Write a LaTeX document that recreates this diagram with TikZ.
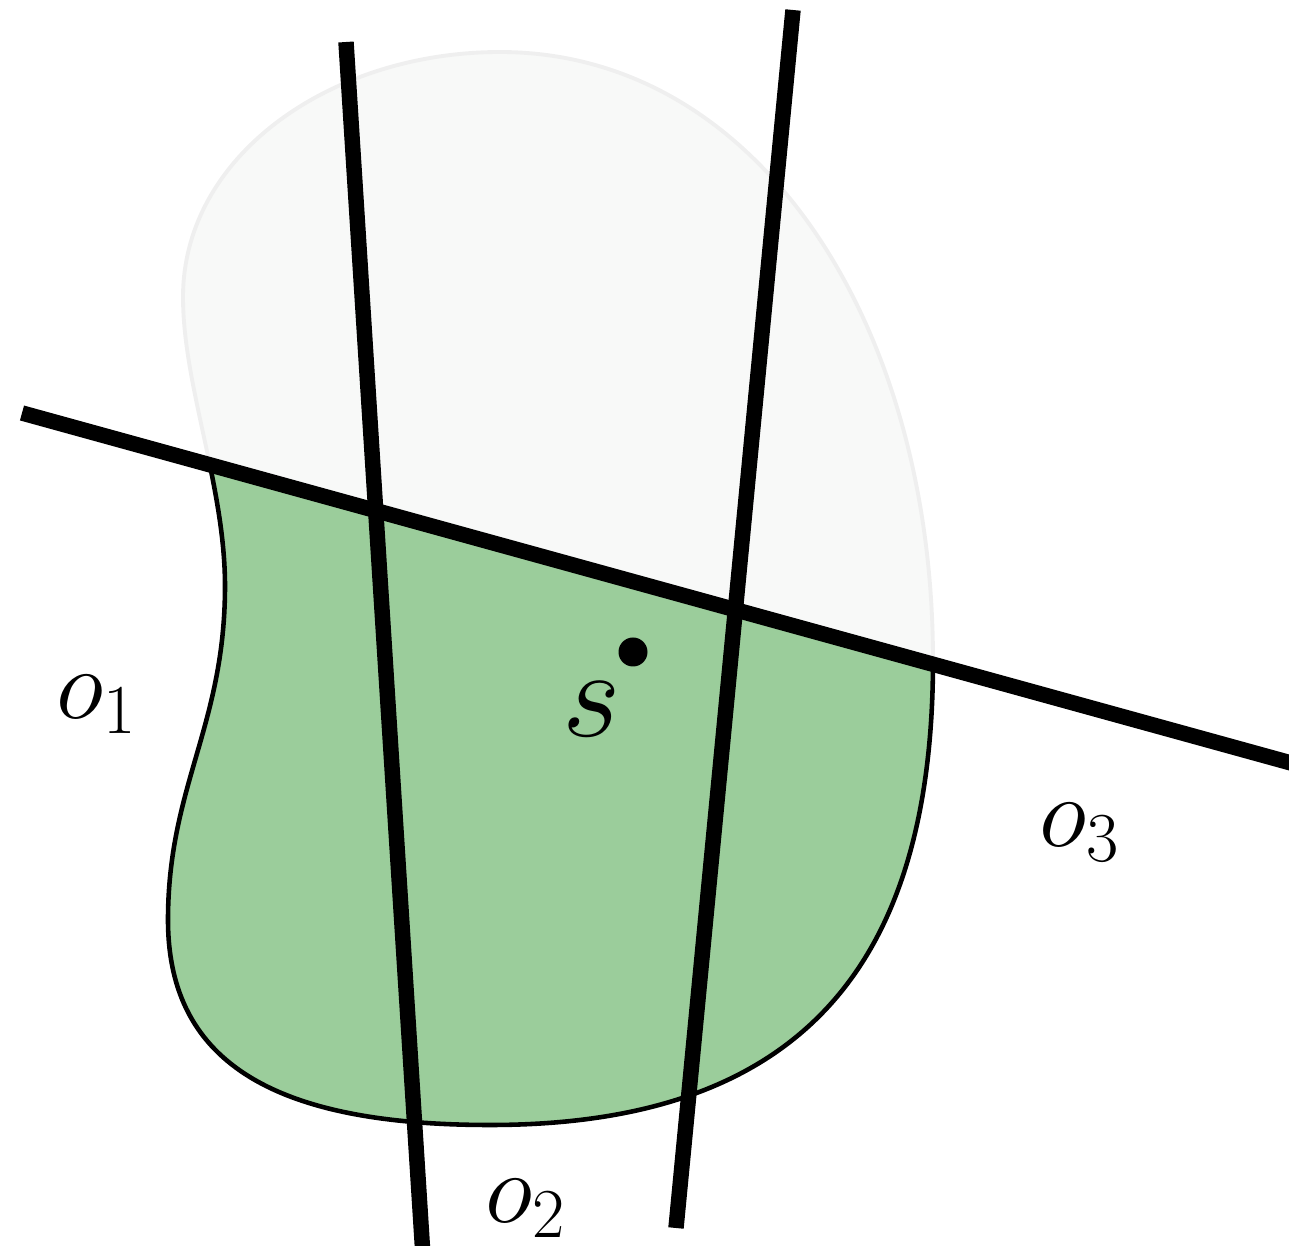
\RequirePackage{fix-cm}
\documentclass[tikz,border=0pt]{standalone}
\definecolor{verdeRegion}{HTML}{9BCD9B}
\definecolor{grisRegion}{HTML}{F8F9F8}
\definecolor{grisBorde}{HTML}{EFEFEF}

\newcommand{\coordRegion}{
\coordinate (A1) at (0.22,8.33);
\coordinate (B1) at (13.2,4.75);
\coordinate (A2) at (3.46,12.04);
\coordinate (B2) at (4.23,-0.1);
\coordinate (A3) at (7.93,12.36);
\coordinate (B3) at (6.76,0.18);
}
\newcommand{\contornoRegion}{
(1.83,9.49) .. controls (1.83,10.9) and (3.3,11.94) .. (5.0,11.94)
.. controls (7.6,11.94) and (9.33,9.2) .. (9.33,5.86)
.. controls (9.33,2.8) and (8.0,1.21) .. (4.9,1.21)
.. controls (2.8,1.21) and (1.68,1.8) .. (1.68,3.26)
.. controls (1.68,4.6) and (2.25,5.2) .. (2.25,6.6)
.. controls (2.25,7.6) and (1.83,8.6) .. (1.83,9.49) -- cycle
}
\tikzset{
regionArriba/.style={fill=grisRegion,draw=grisBorde,line width=1.1pt},
regionAbajo/.style={fill=verdeRegion,draw=black,line width=1.3pt},
recta/.style={black,line width=4.4pt},
punto/.style={circle,fill=black,minimum size=2.9mm,inner sep=0pt},
etiqueta/.style={font=\fontsize{28.5}{34}\selectfont,inner sep=0pt}
}

\begin{document}
\begin{tikzpicture}
    \useasboundingbox (0,0) rectangle (12.89,12.46);
    \coordRegion

    \path[regionArriba] \contornoRegion;
    \begin{scope}
        \clip (A1) -- (B1) -- (B1 |- 0,-1) -- (A1 |- 0,-1) -- cycle;
        \path[regionAbajo] \contornoRegion;
    \end{scope}

    \draw[recta] (A1) -- (B1);
    \draw[recta] (A2) -- (B2);
    \draw[recta] (A3) -- (B3);

    \node[punto] (p) at (6.33,5.94) {};
    \node[etiqueta,font=\fontsize{36}{40}\selectfont] (s) at (5.92,5.37) {$s$};
    \node[etiqueta] (o1) at (0.97,5.42) {$o_1$};
    \node[etiqueta] (o2) at (5.26,0.38) {$o_2$};
    \node[etiqueta] (o3) at (10.80,4.14) {$o_3$};
\end{tikzpicture}
\end{document}
